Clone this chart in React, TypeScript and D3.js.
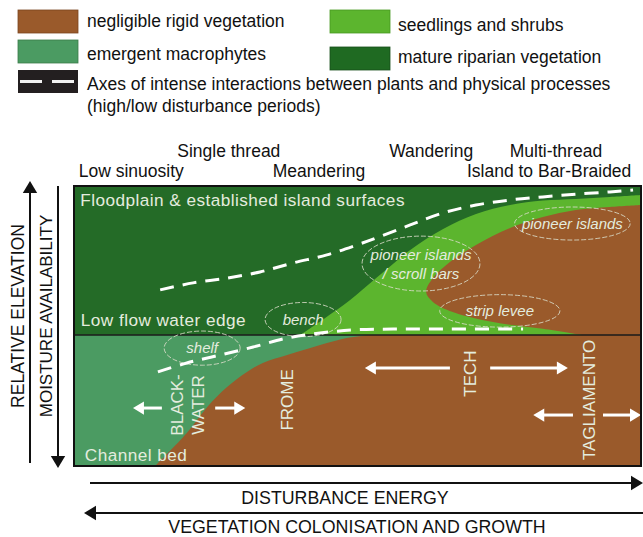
import React from 'react';
import * as d3 from 'd3';

// ---------- data (x: disturbance energy 0-100, y: relative elevation 0-100) ----------
const waterEdge = 46.8;

const matureShrubEdge: [number, number][] = [
  [39.9, 46.8], [44.3, 52.9], [48.7, 59.3], [53.3, 67.1], [59.3, 77.1], [65.1, 84.6],
  [70.9, 90.0], [76.9, 93.2], [82.7, 94.8], [88.5, 95.4], [94.5, 96.1], [100, 96.8],
];

const pioneerBarEdge: [number, number][] = [
  [100, 93.2], [94.5, 92.5], [88.5, 91.4], [82.7, 88.9], [76.9, 85.0], [70.9, 78.9],
  [66.3, 72.9], [63.3, 67.1], [62.1, 62.1], [63.3, 58.6], [66.8, 55.0], [73.9, 51.4],
  [82.7, 49.0], [89.5, 46.8],
];

const channelBarEdge: [number, number][] = [
  [14.3, 0], [19.9, 11.8], [23.5, 21.1], [27.0, 28.2], [30.5, 33.6], [33.3, 36.8],
  [37.6, 39.6], [43.4, 43.2], [48.1, 45.7], [52.2, 46.8],
];

const highFlowAxis: [number, number][] = [
  [15.2, 62.9], [21.0, 65.4], [27.0, 67.1], [32.8, 69.3], [38.6, 72.5], [44.6, 75.4],
  [50.4, 79.3], [53.3, 81.4], [59.3, 86.1], [65.1, 90.4], [70.9, 93.2], [76.9, 95.0],
  [82.7, 96.1], [88.5, 97.1], [94.5, 97.9], [98.6, 98.6],
];

const lowFlowAxis: [number, number][] = [
  [14.8, 33.6], [19.9, 36.8], [25.7, 39.6], [31.6, 42.5], [37.6, 45.7], [43.4, 47.5],
  [49.2, 48.6], [56.3, 48.9], [65.1, 48.9], [79.2, 48.9],
];

const zoneNames = ['Floodplain & established island surfaces', 'Low flow water edge', 'Channel bed'];
const zoneAnchors: [number, number][] = [[1.1, 92.8], [1.2, 50.0], [1.9, 1.8]];

const landformNames = [['bench'], ['shelf'], ['pioneer islands', '/ scroll bars'], ['strip levee'], ['pioneer islands']];
const landformCentres: [number, number][] = [[40.4, 52.3], [22.6, 42.1], [61.2, 72.3], [75.1, 55.4], [87.9, 86.6]];
const landformRadii: [number, number][] = [[6.7, 6.1], [6.7, 6.1], [10.4, 9.8], [10.6, 5.8], [10.2, 5.9]];

const riverNames = ['BLACK-', 'WATER', 'FROME', 'TECH', 'TAGLIAMENTO'];
const riverAnchors: [number, number][] = [[18.2, 21.8], [21.9, 21.8], [37.7, 23.6], [70.0, 33.0], [91.0, 23.6]];

// arrows: [from x, to x, elevation]
const riverRanges: [number, number, number][] = [
  [15.5, 10.4, 20.7], [24.9, 30.2, 20.7],
  [66.3, 51.3, 35.0], [73.4, 87.1, 35.0],
  [88.0, 81.0, 18.2], [93.3, 100, 18.2],
];

const planformRow1 = ['Single thread', 'Wandering', 'Multi-thread'];
const planformRow1X = [27.3, 63.0, 85.0];
const planformRow2 = ['Low sinuosity', 'Meandering', 'Island to Bar-Braided'];
const planformRow2X = [10.1, 43.2, 83.8];

const legendLabels = ['negligible rigid vegetation', 'emergent macrophytes', 'seedlings and shrubs', 'mature riparian vegetation'];
const axisLabels = ['RELATIVE ELEVATION', 'MOISTURE AVAILABILITY', 'DISTURBANCE ENERGY', 'VEGETATION COLONISATION AND GROWTH'];
const legendAxesText = ['Axes of intense interactions between plants and physical processes', '(high/low disturbance periods)'];

// ---------- style ----------
const C = {
  bare: '#9a5a2b',
  macro: '#4b9b62',
  shrub: '#5cb52e',
  mature: '#246b27',
  matureLegend: '#1f6a22',
  light: '#e4ecdf',
};
const FONT = '"Liberation Sans", Arial, Helvetica, sans-serif';

const x = d3.scaleLinear().domain([0, 100]).range([74, 641]);
const y = d3.scaleLinear().domain([0, 100]).range([466, 186]);

const curve = d3
  .line<[number, number]>()
  .x((d) => x(d[0]))
  .y((d) => y(d[1]))
  .curve(d3.curveCatmullRom.alpha(0.5));

function arrowPath(x1: number, y1: number, x2: number, y2: number, head: number) {
  const dx = x2 - x1, dy = y2 - y1;
  const len = Math.hypot(dx, dy);
  const ux = dx / len, uy = dy / len;
  const bx = x2 - ux * head, by = y2 - uy * head;
  const w = head * 0.6;
  return {
    shaft: `M${x1},${y1}L${bx + ux * 1},${by + uy * 1}`,
    head: `M${x2},${y2}L${bx - uy * w},${by + ux * w}L${bx + uy * w},${by - ux * w}Z`,
  };
}

function Arrow({ x1, y1, x2, y2, color, width, head }: any) {
  const a = arrowPath(x1, y1, x2, y2, head);
  return (
    <g>
      <path d={a.shaft} stroke={color} strokeWidth={width} fill="none" />
      <path d={a.head} fill={color} />
    </g>
  );
}

export default function App() {
  const shrubPath = curve(matureShrubEdge) + `L${x(100)},${y(waterEdge)}Z`;
  const barePath = curve(pioneerBarEdge) + `L${x(100)},${y(waterEdge)}Z`;
  const channelPath = curve(channelBarEdge) + `L${x(100)},${y(waterEdge)}L${x(100)},${y(0)}Z`;

  return (
    <svg
      width={643}
      height={537}
      style={{ position: 'absolute', left: 0, top: 0, background: '#fff' }}
      fontFamily={FONT}
    >
      <defs>
        <clipPath id="box">
          <rect x={x(0)} y={y(100)} width={x(100) - x(0)} height={y(0) - y(100)} />
        </clipPath>
      </defs>

      {/* legend */}
      <g>
        <rect x={18} y={10} width={60} height={23} fill={C.bare} stroke="#7a4520" strokeWidth={0.8} />
        <text x={87} y={27} fontSize={17.5} fill="#111">{legendLabels[0]}</text>
        <rect x={18} y={40} width={60} height={23} fill={C.macro} stroke="#3a7a4a" strokeWidth={0.8} />
        <text x={87} y={60} fontSize={17.5} fill="#111">{legendLabels[1]}</text>
        <rect x={330} y={10} width={60} height={23} fill={C.shrub} stroke="#489a22" strokeWidth={0.8} />
        <text x={398} y={31} fontSize={17.5} fill="#111">{legendLabels[2]}</text>
        <rect x={330} y={47} width={60} height={23} fill={C.matureLegend} stroke="#174f19" strokeWidth={0.8} />
        <text x={398} y={63} fontSize={17.5} fill="#111">{legendLabels[3]}</text>
        <rect x={18} y={70} width={60} height={23} fill="#231f20" />
        <line x1={20} x2={77} y1={81.5} y2={81.5} stroke="#f2f2f2" strokeWidth={3} strokeDasharray="22 10" />
        <text x={87} y={90} fontSize={17.5} fill="#111">{legendAxesText[0]}</text>
        <text x={87} y={112} fontSize={17.5} fill="#111">{legendAxesText[1]}</text>
      </g>

      {/* planform labels */}
      {planformRow1.map((t, i) => (
        <text key={t} x={x(planformRow1X[i])} y={157} fontSize={17.5} textAnchor="middle" fill="#111">{t}</text>
      ))}
      {planformRow2.map((t, i) => (
        <text key={t} x={x(planformRow2X[i])} y={177} fontSize={17.5} textAnchor="middle" fill="#111">{t}</text>
      ))}

      {/* main panel */}
      <g clipPath="url(#box)">
        <rect x={x(0)} y={y(100)} width={x(100) - x(0)} height={y(waterEdge) - y(100)} fill={C.mature} />
        <path d={shrubPath} fill={C.shrub} />
        <path d={barePath} fill={C.bare} />
        <rect x={x(0)} y={y(waterEdge)} width={x(100) - x(0)} height={y(0) - y(waterEdge)} fill={C.macro} />
        <path d={channelPath} fill={C.bare} />
        <line x1={x(0)} x2={x(100)} y1={y(waterEdge)} y2={y(waterEdge)} stroke="#1a1a1a" strokeWidth={1.5} />

        {/* landform ellipses */}
        {landformCentres.map((c, i) => (
          <ellipse
            key={i}
            cx={x(c[0])}
            cy={y(c[1])}
            rx={x(landformRadii[i][0]) - x(0)}
            ry={y(0) - y(landformRadii[i][1])}
            fill="none"
            stroke="#d9dcc9"
            strokeWidth={1}
            strokeDasharray="5 2"
            opacity={0.85}
          />
        ))}

        {/* axes of interaction */}
        <path d={curve(highFlowAxis) || ''} fill="none" stroke="#fff" strokeWidth={3} strokeDasharray="14 9" />
        <path d={curve(lowFlowAxis) || ''} fill="none" stroke="#fff" strokeWidth={3} strokeDasharray="14 9" />

        {/* landform labels */}
        {landformNames.map((lines, i) => (
          <text
            key={i}
            x={x(landformCentres[i][0])}
            y={y(landformCentres[i][1])}
            fontSize={15}
            fontStyle="italic"
            textAnchor="middle"
            fill={C.light}
          >
            {lines.map((l, j) => (
              <tspan key={j} x={x(landformCentres[i][0])} dy={j === 0 ? (lines.length === 1 ? 5 : -4) : 19}>
                {l}
              </tspan>
            ))}
          </text>
        ))}

        {/* zone names */}
        {zoneNames.map((t, i) => (
          <text key={t} x={x(zoneAnchors[i][0])} y={y(zoneAnchors[i][1])} fontSize={17.2} letterSpacing={0.45} fill={C.light}>{t}</text>
        ))}

        {/* river names */}
        {riverNames.map((t, i) => (
          <text
            key={t}
            transform={`translate(${x(riverAnchors[i][0])},${y(riverAnchors[i][1])}) rotate(-90)`}
            fontSize={17}
            textAnchor="middle"
            dominantBaseline="central"
            fill={C.light}
          >
            {t}
          </text>
        ))}

        {/* river arrows */}
        {riverRanges.map((r, i) => (
          <Arrow key={i} x1={x(r[0])} y1={y(r[2])} x2={x(r[1])} y2={y(r[2])} color="#fff" width={3} head={11} />
        ))}
      </g>
      <rect x={x(0)} y={y(100)} width={x(100) - x(0)} height={y(0) - y(100)} fill="none" stroke="#111" strokeWidth={2} />

      {/* axis arrows */}
      <Arrow x1={30} y1={463} x2={30} y2={181} color="#111" width={2} head={12} />
      <Arrow x1={58} y1={186} x2={58} y2={468} color="#111" width={2} head={12} />
      <Arrow x1={90} y1={483} x2={643} y2={483} color="#111" width={2} head={12} />
      <Arrow x1={643} y1={513} x2={84} y2={513} color="#111" width={2} head={12} />

      <text transform="translate(18,316) rotate(-90)" fontSize={17.5} textAnchor="middle" dominantBaseline="central" fill="#111">{axisLabels[0]}</text>
      <text transform="translate(46,316) rotate(-90)" fontSize={17} textAnchor="middle" dominantBaseline="central" fill="#111">{axisLabels[1]}</text>
      <text x={345} y={504} fontSize={17.8} textAnchor="middle" fill="#111">{axisLabels[2]}</text>
      <text x={357} y={533} fontSize={17.8} textAnchor="middle" fill="#111">{axisLabels[3]}</text>
    </svg>
  );
}
